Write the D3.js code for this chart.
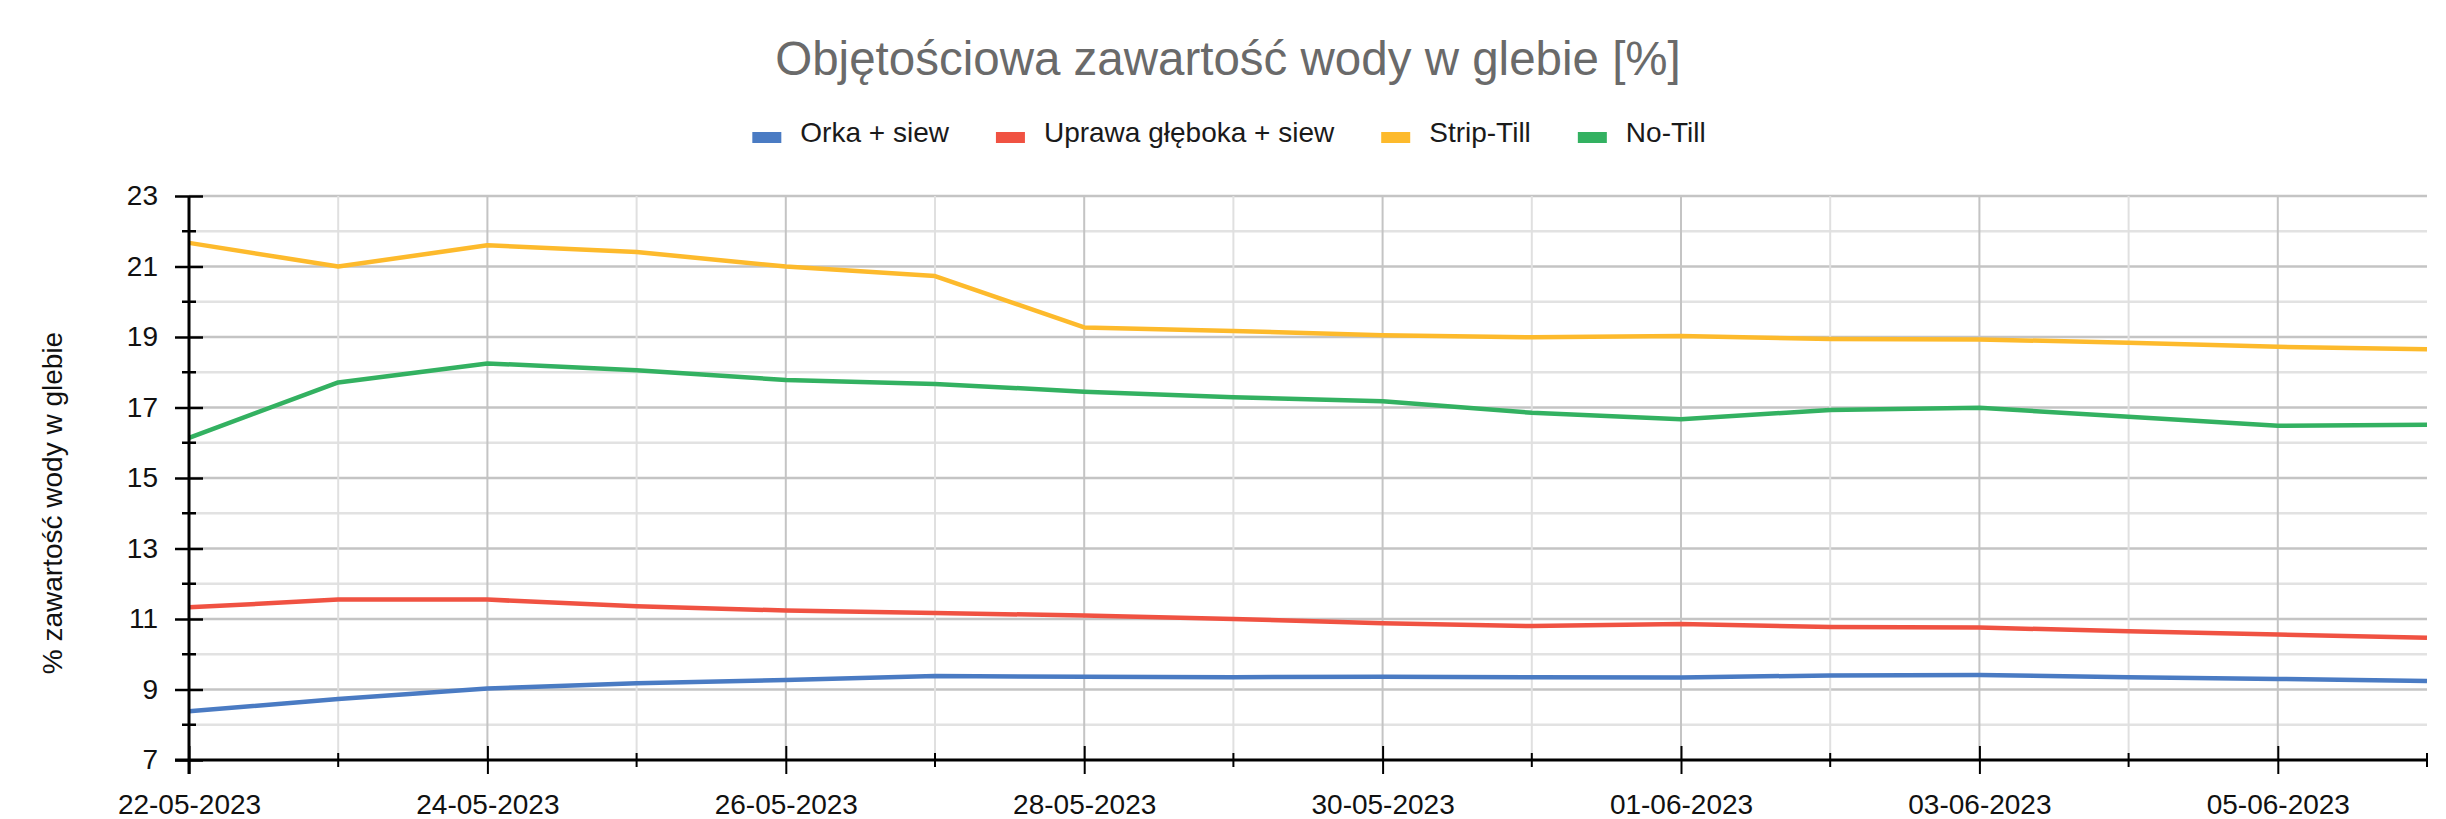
<!DOCTYPE html>
<html>
<head>
<meta charset="utf-8">
<script src="https://cdn.jsdelivr.net/npm/d3@7"></script>
<style>
body { margin: 0; background: #fff; }
svg text { font-family: "Liberation Sans", Arial, Helvetica, sans-serif; }
</style>
</head>
<body>
<script>
// dates of the measurements
var dates = ["2023-05-22","2023-05-23","2023-05-24","2023-05-25","2023-05-26","2023-05-27",
    "2023-05-28","2023-05-29","2023-05-30","2023-05-31","2023-06-01","2023-06-02",
    "2023-06-03","2023-06-04","2023-06-05","2023-06-06"];

// soil water content per treatment, %
var orka    = [8.38, 8.73, 9.03, 9.18, 9.27, 9.38, 9.36, 9.35, 9.36, 9.35, 9.34, 9.40, 9.41, 9.35, 9.30, 9.24];
var uprawa  = [11.33, 11.55, 11.55, 11.36, 11.24, 11.17, 11.10, 11.00, 10.88, 10.80, 10.86, 10.77, 10.76, 10.65, 10.56, 10.47];
var strip   = [21.67, 21.00, 21.60, 21.41, 21.00, 20.73, 19.27, 19.17, 19.05, 18.99, 19.03, 18.94, 18.93, 18.84, 18.72, 18.65];
var noTill  = [16.14, 17.71, 18.25, 18.06, 17.78, 17.67, 17.45, 17.29, 17.18, 16.85, 16.67, 16.93, 16.99, 16.74, 16.48, 16.51];

var seriesNames = ["Orka + siew", "Uprawa głęboka + siew", "Strip-Till", "No-Till"];
var yMajorTicks = [7, 9, 11, 13, 15, 17, 19, 21, 23];
var yMinorTicks = [8, 10, 12, 14, 16, 18, 20, 22];

var title = "Objętościowa zawartość wody w glebie [%]";
var yTitle = "% zawartość wody w glebie";

var colors = ["#4a7bc3", "#f05242", "#fdba2c", "#33b161"];

var width = 2446, height = 819;
var margin = { left: 189, right: 19, top: 196, bottom: 59 };
var drawWidth = width - margin.left - margin.right,
    drawHeight = height - margin.top - margin.bottom;

var parse = d3.timeParse("%Y-%m-%d");
var days = dates.map(parse);
var series = [orka, uprawa, strip, noTill];

var x = d3.scaleTime()
    .domain(d3.extent(days))
    .range([0, drawWidth]);

var y = d3.scaleLinear()
    .domain([7, 23])
    .range([drawHeight, 0]);

var svg = d3.select("body").append("svg")
    .attr("width", width)
    .attr("height", height);

// title
svg.append("text")
    .attr("x", 1228)
    .attr("y", 75)
    .attr("text-anchor", "middle")
    .style("font-size", "47.5px")
    .style("fill", "#6a6a6a")
    .text(title);

// legend, centered
var legend = svg.append("g");
var lx = 0, gap = 47;
seriesNames.forEach(function(name, i) {
    var item = legend.append("g").attr("transform", "translate(" + lx + ",0)");
    item.append("rect")
        .attr("x", 0).attr("y", -10)
        .attr("width", 29).attr("height", 11)
        .style("fill", colors[i]);
    var t = item.append("text")
        .attr("x", 48).attr("y", 0)
        .style("font-size", "28px")
        .style("fill", "#1a1a1a")
        .text(name);
    lx += 48 + t.node().getComputedTextLength() + gap;
});
var legendWidth = lx - gap;
legend.attr("transform", "translate(" + (1229 - legendWidth / 2) + ",142)");

var g = svg.append("g")
    .attr("transform", "translate(" + margin.left + "," + margin.top + ")");

// horizontal grid
g.selectAll(".hminor").data(yMinorTicks).enter().append("line")
    .attr("x1", 0).attr("x2", drawWidth)
    .attr("y1", function(d) { return y(d); }).attr("y2", function(d) { return y(d); })
    .style("stroke", "#e2e2e2").style("stroke-width", 2.5);
g.selectAll(".hmajor").data(yMajorTicks.filter(function(d) { return d > 7; })).enter().append("line")
    .attr("x1", 0).attr("x2", drawWidth)
    .attr("y1", function(d) { return y(d); }).attr("y2", function(d) { return y(d); })
    .style("stroke", "#c4c4c4").style("stroke-width", 2.5);

// vertical grid, every day, labelled days darker
g.selectAll(".vgrid").data(days.filter(function(d, i) { return i > 0 && i < days.length - 1; })).enter().append("line")
    .attr("x1", function(d) { return x(d); }).attr("x2", function(d) { return x(d); })
    .attr("y1", 0).attr("y2", drawHeight)
    .style("stroke", function(d) { return days.indexOf(d) % 2 === 0 ? "#c4c4c4" : "#e0e0e0"; })
    .style("stroke-width", 2);

// lines
var line = d3.line()
    .x(function(d, i) { return x(days[i]); })
    .y(function(d) { return y(d); });

series.forEach(function(s, i) {
    g.append("path")
        .datum(s)
        .attr("d", line)
        .style("fill", "none")
        .style("stroke", colors[i])
        .style("stroke-width", 4.5)
        .style("stroke-linejoin", "round");
});

// x axis, labels every second day
var xAxis = g.append("g")
    .attr("transform", "translate(0," + drawHeight + ")")
    .call(d3.axisBottom(x)
        .tickValues(days.filter(function(d, i) { return i % 2 === 0; }))
        .tickFormat(d3.timeFormat("%d-%m-%Y"))
        .tickSize(14)
        .tickPadding(0));
xAxis.select(".domain").remove();
xAxis.selectAll(".tick line").attr("y1", -14).attr("y2", 14)
    .style("stroke", "#000").style("stroke-width", 2);
xAxis.selectAll(".tick text")
    .attr("y", 54).attr("dy", null)
    .style("font-size", "28px").style("font-family", null).style("fill", "#111");

// minor x ticks
xAxis.selectAll(".xminor").data(days.filter(function(d, i) { return i % 2 === 1; })).enter().append("line")
    .attr("x1", function(d) { return x(d); }).attr("x2", function(d) { return x(d); })
    .attr("y1", -7).attr("y2", 7)
    .style("stroke", "#000").style("stroke-width", 2);

xAxis.append("line")
    .attr("x1", -14).attr("x2", drawWidth)
    .style("stroke", "#000").style("stroke-width", 3);

// y axis
var yAxis = g.append("g")
    .call(d3.axisLeft(y)
        .tickValues(yMajorTicks)
        .tickFormat(d3.format("d"))
        .tickSize(14)
        .tickPadding(17));
yAxis.select(".domain").remove();
yAxis.selectAll(".tick line").attr("x1", -14).attr("x2", 14)
    .style("stroke", "#000").style("stroke-width", 2.5);
yAxis.selectAll(".tick text")
    .style("font-size", "28px").style("font-family", null).style("fill", "#111");

yAxis.selectAll(".yminor").data(yMinorTicks).enter().append("line")
    .attr("x1", -7).attr("x2", 7)
    .attr("y1", function(d) { return y(d); }).attr("y2", function(d) { return y(d); })
    .style("stroke", "#000").style("stroke-width", 2.5);

yAxis.append("line")
    .attr("y1", 0).attr("y2", drawHeight + 14)
    .style("stroke", "#000").style("stroke-width", 3);

// y axis title
svg.append("text")
    .attr("transform", "translate(62,503) rotate(-90)")
    .attr("text-anchor", "middle")
    .style("font-size", "28px")
    .style("fill", "#111")
    .text(yTitle);
</script>
</body>
</html>
